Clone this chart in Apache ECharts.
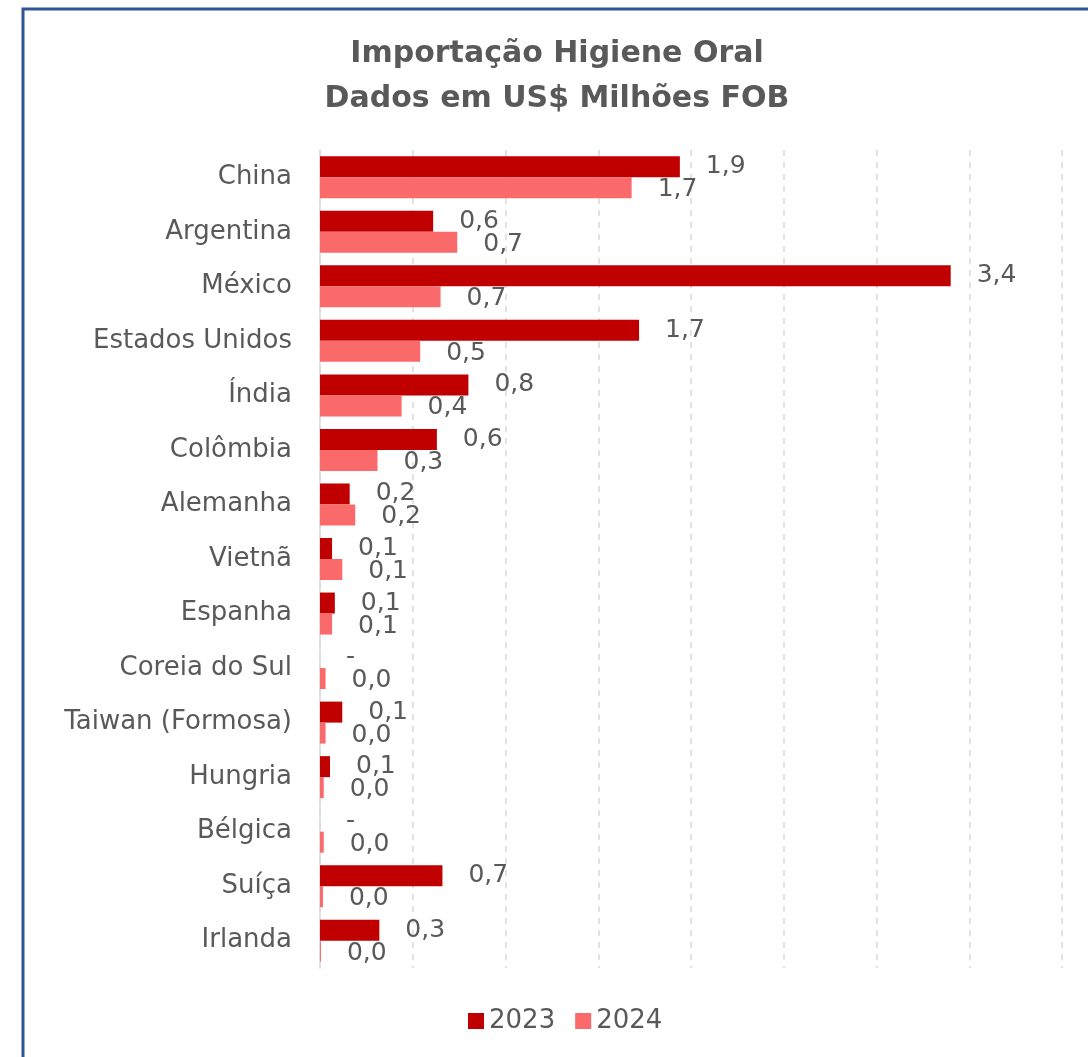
<!DOCTYPE html>
<html><head><meta charset="utf-8">
<script src="https://cdn.jsdelivr.net/npm/echarts@6/dist/echarts.min.js"></script>
<style>html,body{margin:0;padding:0;background:#fff}#c{width:1088px;height:1057px}</style>
</head><body><div id="c"></div>
<script>
const categories = ['China','Argentina','México','Estados Unidos','Índia','Colômbia','Alemanha','Vietnã','Espanha','Coreia do Sul','Taiwan (Formosa)','Hungria','Bélgica','Suíça','Irlanda'];
const values2023 = [1.94,0.61,3.40,1.72,0.80,0.63,0.16,0.065,0.08,0,0.12,0.054,0,0.66,0.32];
const values2024 = [1.68,0.74,0.65,0.54,0.44,0.31,0.19,0.12,0.065,0.03,0.03,0.02,0.02,0.016,0.005];
const seriesNames = ['2023','2024'];

const FONT = 'DejaVu Sans';
const grey = '#595959';
const fmt = p => p.value === 0 ? '-' : p.value.toFixed(1).replace('.', ',');

const chart = echarts.init(document.getElementById('c'), null, {renderer:'canvas'});
chart.setOption({
  animation: false,
  backgroundColor: '#fff',
  graphic: [
    {type:'rect', shape:{x:23,y:9,width:1200,height:1200}, style:{fill:'none', stroke:'#2F5597', lineWidth:3}, z:100},
    {type:'text', x:557, y:32, style:{text:'Importação Higiene Oral\nDados em US$ Milhões FOB', font:'bold 30px "'+FONT+'"', fill:grey, textAlign:'center', lineHeight:45}}
  ],
  grid: {left:320, right:26, top:150, bottom:89, containLabel:false},
  legend: {
    bottom: 18, left: 463, itemWidth:16, itemHeight:16, itemGap: 20, icon:'rect',
    textStyle:{fontFamily:FONT, fontSize:26, color:grey},
    data: seriesNames
  },
  xAxis: {
    type:'value', min:0, max:4, interval:0.5,
    axisLabel:{show:false}, axisLine:{show:false}, axisTick:{show:false},
    splitLine:{show:true, lineStyle:{type:[6,6], color:'#D9D9D9', width:1.5}}
  },
  yAxis: {
    type:'category', inverse:true, data:categories,
    axisLine:{show:true, lineStyle:{color:'#D9D9D9', width:1.5}}, axisTick:{show:false},
    axisLabel:{fontFamily:FONT, fontSize:26, color:grey, margin:28}
  },
  series: [
    {name:seriesNames[0], type:'bar', data:values2023, itemStyle:{color:'#C00000'}, barGap:'0%', barCategoryGap:'23%',
     label:{show:true, position:'right', distance:26, formatter:fmt, fontFamily:FONT, fontSize:25, color:grey}},
    {name:seriesNames[1], type:'bar', data:values2024, itemStyle:{color:'#FA6A6A'}, barGap:'0%', barCategoryGap:'23%',
     label:{show:true, position:'right', distance:26, offset:[0,2], formatter:fmt, fontFamily:FONT, fontSize:25, color:grey}}
  ]
});
</script></body></html>
